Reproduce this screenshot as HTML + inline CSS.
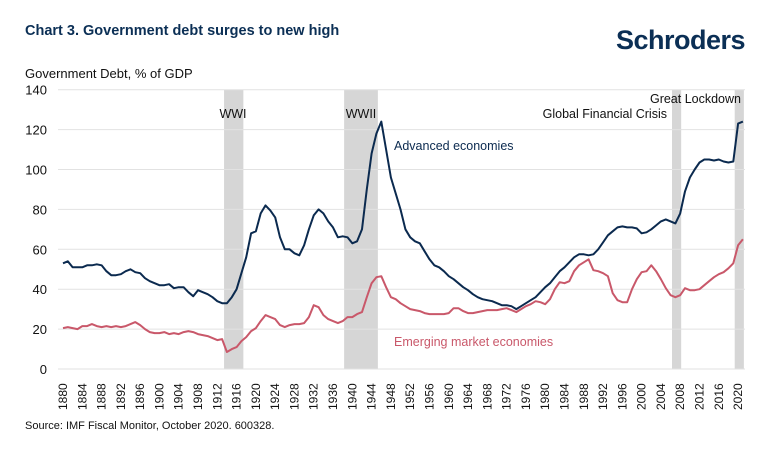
<!DOCTYPE html>
<html><head><meta charset="utf-8">
<style>
body{margin:0;background:#fff;width:770px;height:454px;overflow:hidden;font-family:"Liberation Sans",sans-serif;}
svg text{font-family:"Liberation Sans",sans-serif;}
</style></head>
<body>
<svg id="chart" width="770" height="454" viewBox="0 0 770 454" xmlns="http://www.w3.org/2000/svg">
<text x="25" y="35" font-size="14.5" font-weight="bold" fill="#0b2f55">Chart 3. Government debt surges to new high</text>
<text x="745" y="49" text-anchor="end" font-size="27" font-weight="bold" fill="#0b2f55" letter-spacing="-0.5">Schroders</text>
<text x="25" y="78" font-size="13" fill="#111">Government Debt, % of GDP</text>
<g id="bands"></g>
<g id="grid"></g>
<g id="xlabels"></g>
<g id="lines"></g>
<text x="233" y="118" text-anchor="middle" font-size="12.5" fill="#111">WWI</text>
<text x="361" y="118" text-anchor="middle" font-size="12.5" fill="#111">WWII</text>
<text x="667" y="118" text-anchor="end" font-size="12.5" fill="#111">Global Financial Crisis</text>
<text x="741" y="103" text-anchor="end" font-size="12.5" fill="#111">Great Lockdown</text>
<text x="394" y="150" font-size="12.5" fill="#0b2a4f">Advanced economies</text>
<text x="394" y="346" font-size="12.5" fill="#c9586a">Emerging market economies</text>
<text x="25" y="429" font-size="11" fill="#111">Source: IMF Fiscal Monitor, October 2020. 600328.</text>
</svg>
<script>
const years = [];
for (let y = 1880; y <= 2021; y++) years.push(y);
const advanced = [53,54,51,51,51,52,52,52.5,52,49,47,47,47.5,49,50,48.5,48,45.5,44,43,42,42,42.5,40.5,41,41,38.5,36.5,39.5,38.5,37.5,36,34,33,33,36,40,48,56,68,69,78,82,79.5,76,66,60,60,58,57,62,70,77,80,78,74,71,66,66.5,66,63,64,70,90,108,118,124,110,96,88,80,70,66,64,63,59,55,52,51,49,46.5,45,43,41,39.5,37.5,36,35,34.5,34,33,32,32,31.5,30,31.5,33,34.5,36,38.5,41,43,46,49,51,53.5,56,57.5,57.5,57,57.5,60,63.5,67,69,71,71.5,71,71,70.5,68,68.5,70,72,74,75,74,73,78,89,96,100,103.5,105,105,104.5,105,104,103.5,104,123,124];
const emerging = [20.5,21,20.5,20,21.5,21.5,22.5,21.5,21,21.5,21,21.5,21,21.5,22.5,23.5,22,20,18.5,18,18,18.5,17.5,18,17.5,18.5,19,18.5,17.5,17,16.5,15.5,14.5,15,8.5,10,11,14,16,19,20.5,24,27,26,25,22,21,22,22.5,22.5,23,26,32,31,27,25,24,23,24,26,26,27.5,28.5,36,43,46,46.5,41,36,35,33,31.5,30,29.5,29,28,27.5,27.5,27.5,27.5,28,30.5,30.5,29,28,28,28.5,29,29.5,29.5,29.5,30,30.5,29.5,28.5,30,31.5,32.5,34,33.5,32.5,35,40,43.5,43,44,49,52,53.5,55,49.5,49,48,46.5,38,34.5,33.5,33.5,40,45,48.5,49,52,49,45,40.5,37,36,37,40.5,39.5,39.5,40,42,44,46,47.5,48.5,50.5,53,62,65];
const yTicks = [0,20,40,60,80,100,120,140];
const xTickYears = [1880,1884,1888,1892,1896,1900,1904,1908,1912,1916,1920,1924,1928,1932,1936,1940,1944,1948,1952,1956,1960,1964,1968,1972,1976,1980,1984,1988,1992,1996,2000,2004,2008,2012,2016,2020];
const bandStarts = [1913.4,1938.3,2006.3,2019.3];
const bandEnds = [1917.4,1945.3,2008.2,2021.2];
const bandNames = ['band-wwi','band-wwii','band-gfc','band-great-lockdown'];

const NS = 'http://www.w3.org/2000/svg';
const X0 = 63, PXY = 4.822, Y0 = 369, PXV = 1.995;
const xs = yr => X0 + (yr - 1880) * PXY;
const ys = v => Y0 - v * PXV;
function mk(tag, attrs, parent){const e=document.createElementNS(NS,tag);for(const k in attrs)e.setAttribute(k,attrs[k]);parent.appendChild(e);return e;}

const bands = document.getElementById('bands');
bandStarts.forEach((s,i)=>{
  const r = mk('rect',{x:xs(s),y:ys(140),width:xs(bandEnds[i])-xs(s),height:ys(0)-ys(140),fill:'#d6d6d6'},bands);
  
  
});
const grid = document.getElementById('grid');
yTicks.forEach(v=>{
  const l = mk('line',{x1:58,x2:745,y1:ys(v),y2:ys(v),stroke:'#e2e2e2','stroke-width':1},grid);
  
  
  const t = mk('text',{x:47,y:ys(v)+5,'text-anchor':'end','font-size':13,fill:'#111'},grid);
  t.textContent = v;
  
  
});
const xl = document.getElementById('xlabels');
xTickYears.forEach(yr=>{
  const x = xs(yr) + 4;
  const t = mk('text',{x:x,y:410,'font-size':12,fill:'#111',transform:`rotate(-90 ${x} 410)`},xl);
  t.textContent = yr;
  
  
});
const lines = document.getElementById('lines');
function path(vals, color, name){
  const d = vals.map((v,i)=>(i?'L':'M')+xs(years[i]).toFixed(1)+' '+ys(v).toFixed(1)).join(' ');
  const p = mk('path',{d:d,fill:'none',stroke:color,'stroke-width':2,'stroke-linejoin':'round'},lines);
  
  
}
path(emerging,'#c9586a','line-emerging-markets');
path(advanced,'#0b2a4f','line-advanced-economies');
</script>
</body></html>
